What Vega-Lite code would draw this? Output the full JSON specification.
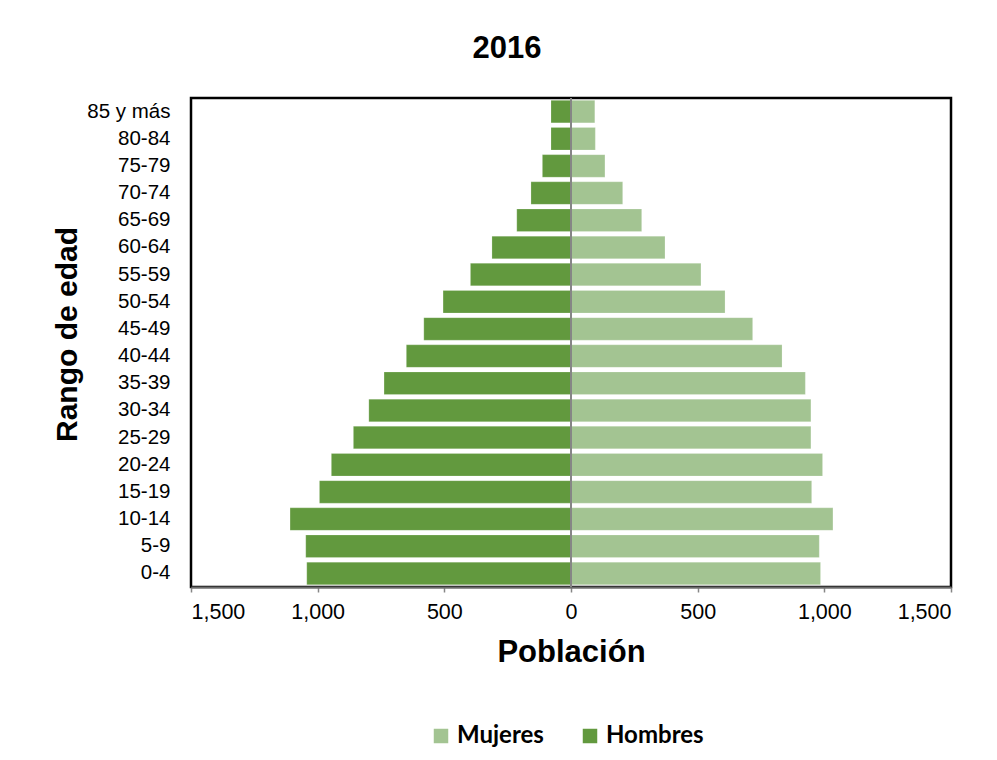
{
  "$schema": "https://vega.github.io/schema/vega-lite/v6.json",
  "autosize": {"type": "none"},
  "padding": {"left": 191, "top": 98, "right": 46, "bottom": 173},
  "width": 760,
  "height": 489,
  "background": "white",
  "title": {
    "text": "2016",
    "font": "Liberation Sans",
    "fontSize": 31,
    "fontWeight": "bold",
    "color": "#000000",
    "offset": 32,
    "dx": -64
  },
  "data": {
    "values": [
      {"edad": "85 y más", "sexo": "Hombres", "valor": -79},
      {"edad": "80-84", "sexo": "Hombres", "valor": -79},
      {"edad": "75-79", "sexo": "Hombres", "valor": -113},
      {"edad": "70-74", "sexo": "Hombres", "valor": -158},
      {"edad": "65-69", "sexo": "Hombres", "valor": -214},
      {"edad": "60-64", "sexo": "Hombres", "valor": -312},
      {"edad": "55-59", "sexo": "Hombres", "valor": -397},
      {"edad": "50-54", "sexo": "Hombres", "valor": -505},
      {"edad": "45-49", "sexo": "Hombres", "valor": -581},
      {"edad": "40-44", "sexo": "Hombres", "valor": -650},
      {"edad": "35-39", "sexo": "Hombres", "valor": -738},
      {"edad": "30-34", "sexo": "Hombres", "valor": -798},
      {"edad": "25-29", "sexo": "Hombres", "valor": -859},
      {"edad": "20-24", "sexo": "Hombres", "valor": -946},
      {"edad": "15-19", "sexo": "Hombres", "valor": -993},
      {"edad": "10-14", "sexo": "Hombres", "valor": -1109},
      {"edad": "5-9", "sexo": "Hombres", "valor": -1047},
      {"edad": "0-4", "sexo": "Hombres", "valor": -1043},
      {"edad": "85 y más", "sexo": "Mujeres", "valor": 94},
      {"edad": "80-84", "sexo": "Mujeres", "valor": 96},
      {"edad": "75-79", "sexo": "Mujeres", "valor": 134},
      {"edad": "70-74", "sexo": "Mujeres", "valor": 204},
      {"edad": "65-69", "sexo": "Mujeres", "valor": 279},
      {"edad": "60-64", "sexo": "Mujeres", "valor": 371},
      {"edad": "55-59", "sexo": "Mujeres", "valor": 513},
      {"edad": "50-54", "sexo": "Mujeres", "valor": 608},
      {"edad": "45-49", "sexo": "Mujeres", "valor": 717},
      {"edad": "40-44", "sexo": "Mujeres", "valor": 833},
      {"edad": "35-39", "sexo": "Mujeres", "valor": 925},
      {"edad": "30-34", "sexo": "Mujeres", "valor": 947},
      {"edad": "25-29", "sexo": "Mujeres", "valor": 947},
      {"edad": "20-24", "sexo": "Mujeres", "valor": 993},
      {"edad": "15-19", "sexo": "Mujeres", "valor": 950},
      {"edad": "10-14", "sexo": "Mujeres", "valor": 1034},
      {"edad": "5-9", "sexo": "Mujeres", "valor": 980},
      {"edad": "0-4", "sexo": "Mujeres", "valor": 985}
    ]
  },
  "layer": [
    {
      "mark": {"type": "bar", "stroke": "#ffffff", "strokeOpacity": 0.4, "strokeWidth": 0.5},
      "encoding": {
        "y": {
          "field": "edad",
          "type": "nominal",
          "sort": ["85 y más", "80-84", "75-79", "70-74", "65-69", "60-64", "55-59", "50-54", "45-49", "40-44", "35-39", "30-34", "25-29", "20-24", "15-19", "10-14", "5-9", "0-4"],
          "scale": {"paddingInner": 0.17, "paddingOuter": 0.085},
          "axis": {
            "title": "Rango de edad",
            "titleFont": "Liberation Sans",
            "titleFontSize": 30,
            "titleFontWeight": "bold",
            "titleColor": "#000000",
            "titlePadding": 4,
            "titleY": 236,
            "labelFont": "Liberation Sans",
            "labelFontSize": 20.5,
            "labelColor": "#000000",
            "labelPadding": 21,
            "ticks": false,
            "domain": false,
            "grid": false
          }
        },
        "x": {
          "field": "valor",
          "type": "quantitative",
          "stack": null,
          "scale": {"domain": [-1500, 1500], "nice": false},
          "axis": {
            "title": "Población",
            "titleFont": "Liberation Sans",
            "titleFontSize": 31,
            "titleFontWeight": "bold",
            "titleColor": "#000000",
            "titlePadding": 15,
            "values": [-1500, -1000, -500, 0, 500, 1000, 1500],
            "labelExpr": "format(abs(datum.value), ',')",
            "labelFont": "Liberation Sans",
            "labelFontSize": 21.5,
            "labelColor": "#000000",
            "labelPadding": 9,
            "tickSize": 5,
            "tickColor": "#868686",
            "tickWidth": 1.5,
            "domainColor": "#6b6b6b",
            "domainWidth": 2,
            "grid": false
          }
        },
        "color": {
          "field": "sexo",
          "type": "nominal",
          "scale": {"domain": ["Mujeres", "Hombres"], "range": ["#A3C492", "#62993E"]},
          "legend": {
            "title": null,
            "orient": "none",
            "direction": "horizontal",
            "legendX": 238,
            "legendY": 626,
            "symbolType": "square",
            "symbolSize": 210,
            "symbolStrokeWidth": 0,
            "labelFont": "Lato",
            "labelFontSize": 24,
            "labelFontWeight": "bold",
            "labelColor": "#000000",
            "labelOffset": 4,
            "columnPadding": 34,
            "padding": 0
          }
        }
      }
    },
    {
      "mark": {"type": "rule", "color": "#868686", "strokeWidth": 1.5},
      "encoding": {"x": {"datum": 0}}
    }
  ],
  "config": {
    "view": {"stroke": "#000000", "strokeWidth": 2.5}
  }
}
